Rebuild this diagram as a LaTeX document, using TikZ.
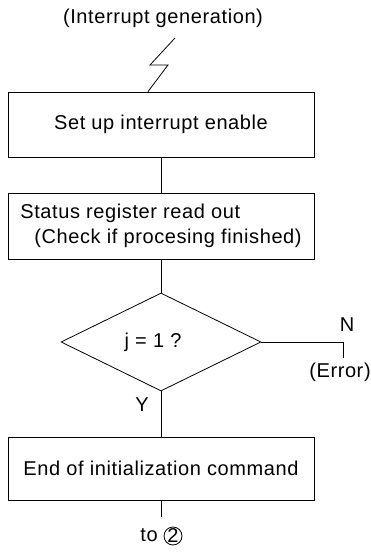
\documentclass[tikz,border=0pt]{standalone}
\usepackage{fontspec}
\setmainfont{Liberation Sans}[LetterSpace=3]
\usetikzlibrary{shapes.geometric}

\tikzset{
  StepBox/.style = {
  draw,
  minimum width = 306pt,
  minimum height = 65pt,
  inner sep = 0pt},
  Choice/.style = {
  draw,
  diamond,
  minimum width = 200pt,
  minimum height = 98pt,
  inner sep = 0pt},
  Label/.style = {inner sep = 0pt}
}

\begin{document}
\begin{tikzpicture}[x=1pt, y=-1pt, line width=0.8pt,
  font=\fontsize{20}{25}\selectfont]
  \useasboundingbox (0,0) rectangle (371,553);
  \node[Label] (irq) at (163,18) {(Interrupt generation)};
  \node[StepBox] (enable) at (161,124.5) {Set up interrupt enable};
  \node[StepBox, minimum height=66pt, align=left] (status) at (161,226)
    {Status register read out\\\hspace*{14pt}(Check if procesing finished)};
  \node[Choice] (check) at (161,342) {\hspace*{-16pt}j = 1 ?};
  \node[StepBox, minimum height=63pt] (finish) at (161,468.5)
    {End of initialization command};
  \node[Label] (no) at (347,325) {N};
  \node[Label] (err) at (340,372) {(Error)};
  \node[Label] (yes) at (142,405) {Y};
  \node[Label] (to) at (149,535) {to};
  \node[draw, circle, inner sep=0pt, minimum size=18pt] (two) at (173,536) {2};
  \coordinate (bolt1) at (175,38);
  \coordinate (bolt2) at (150,65);
  \coordinate (bolt3) at (168,65);
  \coordinate (nEnd) at (343,358);
  \coordinate (tail) at (161,517);
  % interrupt mark
  \draw (bolt1) -- (bolt2) -- (bolt3) -- (enable.north -| 148,0);
  % main flow
  \draw (enable) -- (status);
  \draw (status) -- (check);
  \draw (check) -- (finish);
  \draw (finish) -- (tail);
  % error branch
  \draw (check.east) -| (nEnd);
\end{tikzpicture}
\end{document}
